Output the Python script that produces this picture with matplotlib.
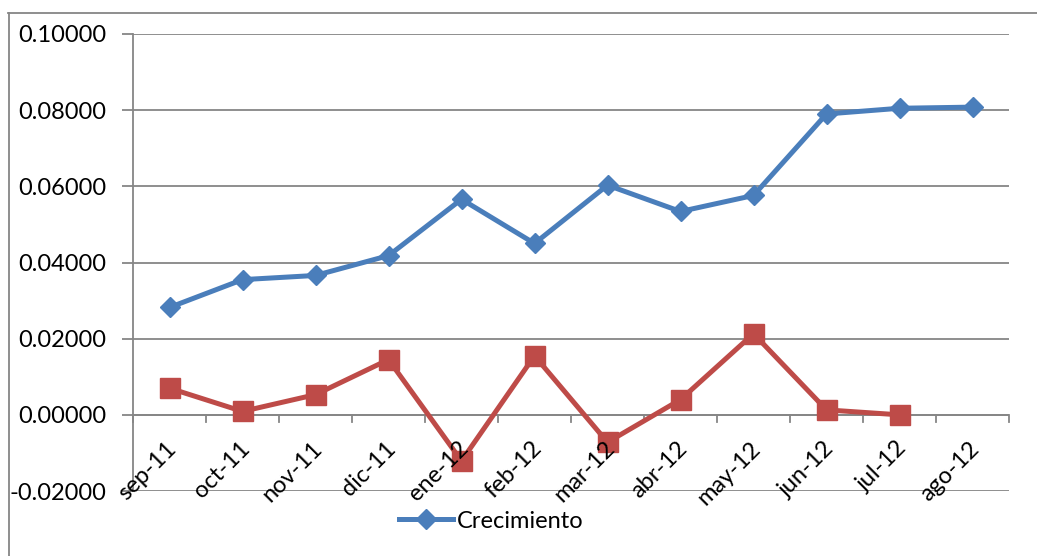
import matplotlib
matplotlib.use("Agg")
import matplotlib.pyplot as plt
from matplotlib.lines import Line2D

months = ["sep-11", "oct-11", "nov-11", "dic-11", "ene-12", "feb-12",
          "mar-12", "abr-12", "may-12", "jun-12", "jul-12", "ago-12"]
crecimiento = [0.0282, 0.0355, 0.0366, 0.0418, 0.0566, 0.0450,
               0.0603, 0.0534, 0.0576, 0.0790, 0.0805, 0.0808]
serie2 = [0.0070, 0.0009, 0.0053, 0.0145, -0.0121, 0.0155,
          -0.0072, 0.0040, 0.0213, 0.0013, 0.0000]
yticks = [-0.02, 0.0, 0.02, 0.04, 0.06, 0.08, 0.10]

plt.rcParams['font.family'] = ['Lato', 'DejaVu Sans']
FS = 17

W, H = 1037, 556
fig = plt.figure(figsize=(W / 100, H / 100), dpi=100)
ax = fig.add_axes([133 / W, 1 - 491 / H, (1009 - 133) / W, (491 - 34) / H])

blue = "#4A7EBB"
red = "#BE4B48"
grid = "#868686"

x1 = list(range(len(crecimiento)))
x2 = list(range(len(serie2)))
ax.plot(x1, crecimiento, color=blue, lw=3.6, marker="D", ms=10.5,
        markeredgecolor=blue, zorder=4, label="Crecimiento")
ax.plot(x2, serie2, color=red, lw=3.6, marker="s", ms=15,
        markeredgecolor=red, zorder=3)

ax.set_xlim(-0.5, len(months) - 0.5)
ax.set_ylim(-0.02, 0.10)
ax.set_yticks(yticks)
ax.set_yticklabels([f"{v:.5f}" for v in yticks])
ax.yaxis.grid(True, color=grid, lw=1.3)
ax.set_axisbelow(True)

for s in ["top", "right", "bottom"]:
    ax.spines[s].set_visible(False)
ax.spines["left"].set_color(grid)
ax.spines["left"].set_linewidth(1.3)

# x axis line at zero with boundary ticks
ax.axhline(0, color=grid, lw=1.3, zorder=1)
for b in [i - 0.5 for i in range(len(months) + 1)]:
    ax.plot([b, b], [0, -0.002], color=grid, lw=1.3, zorder=1, clip_on=False)

ax.set_xticks([])
for i, m in enumerate(months):
    ax.text(i - 0.05, -0.0060, m, rotation=45, ha="right", va="top",
            rotation_mode="anchor", fontsize=FS, transform=ax.transData)

ax.tick_params(axis="y", length=8, color=grid, width=1.3, pad=11, labelsize=FS)

leg_handle = Line2D([], [], color=blue, lw=3.6, marker="D", ms=10.5,
                    markeredgecolor=blue)
fig.legend([leg_handle], ["Crecimiento"], loc="center left",
           bbox_to_anchor=(399 / W, 1 - 521 / H), frameon=False,
           fontsize=FS, handlelength=2.3, handletextpad=0.15,
           borderpad=0, borderaxespad=0)

# chart border
fig.add_artist(Line2D([8.5 / W, 8.5 / W], [0, 1 - 13 / H], color=grid, lw=1.3))
fig.add_artist(Line2D([8 / W, 1], [1 - 13 / H, 1 - 13 / H], color=grid, lw=1.3))

fig.savefig("out.png", dpi=100)
